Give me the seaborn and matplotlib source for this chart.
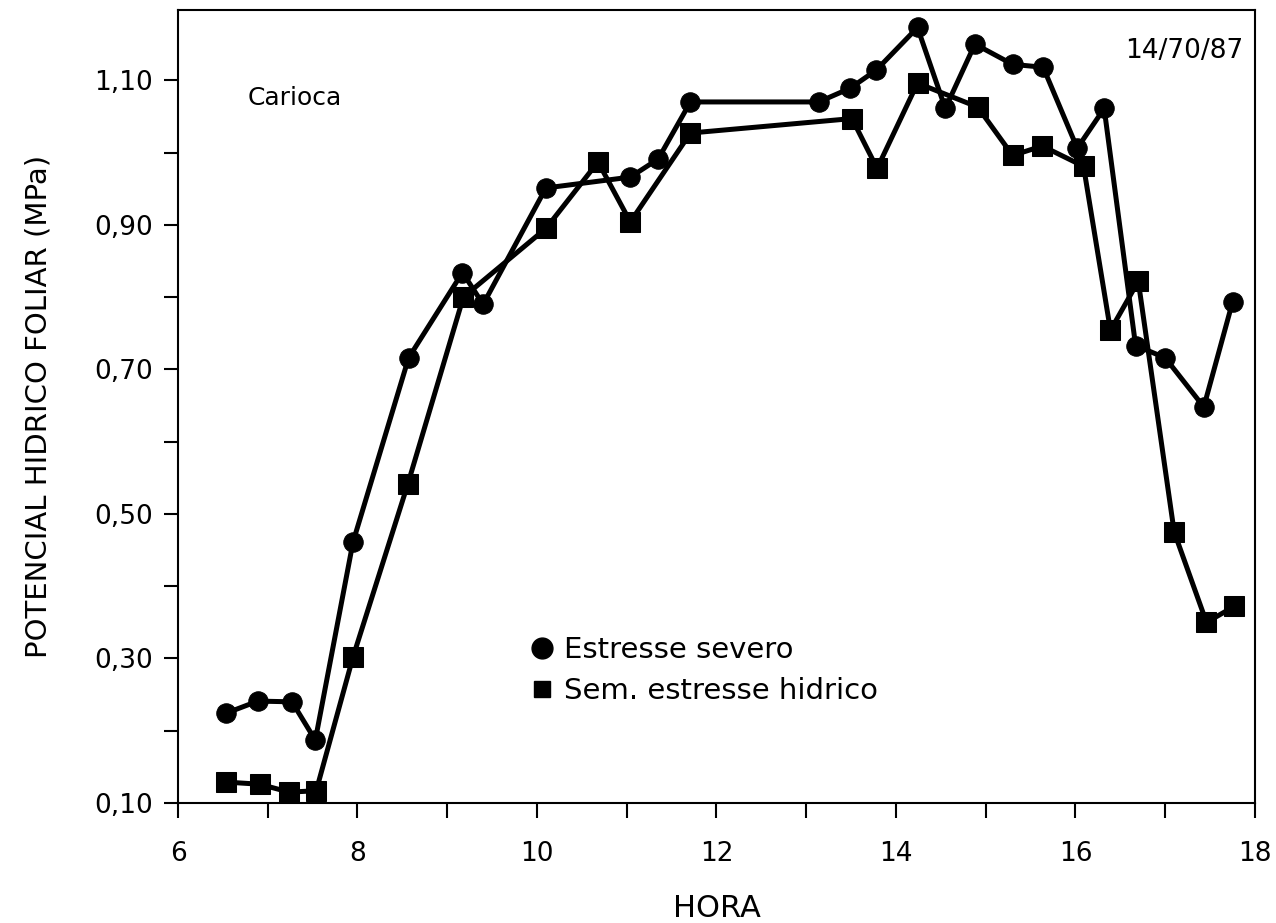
import matplotlib
matplotlib.use("Agg")
import matplotlib.pyplot as plt
import seaborn as sns
import pandas as pd
from matplotlib.ticker import MultipleLocator, FixedLocator, FuncFormatter
from matplotlib.lines import Line2D

# ---- data ----
hora_severo = [6.53, 6.89, 7.27, 7.53, 7.95, 8.57, 9.17, 9.40, 10.10, 11.04, 11.35, 11.71,
               13.14, 13.49, 13.78, 14.24, 14.55, 14.88, 15.30, 15.64, 16.02, 16.32,
               16.67, 17.00, 17.43, 17.75]
pot_severo = [0.224, 0.241, 0.240, 0.187, 0.461, 0.716, 0.834, 0.790, 0.951, 0.966, 0.991, 1.070,
              1.070, 1.089, 1.114, 1.173, 1.061, 1.150, 1.122, 1.118, 1.006, 1.061,
              0.733, 0.716, 0.648, 0.793]

hora_sem = [6.53, 6.91, 7.24, 7.54, 7.95, 8.56, 9.18, 10.10, 10.68, 11.04, 11.71,
            13.51, 13.79, 14.24, 14.91, 15.30, 15.63, 16.09, 16.39, 16.70, 17.10, 17.46, 17.77]
pot_sem = [0.129, 0.126, 0.115, 0.117, 0.302, 0.541, 0.800, 0.895, 0.987, 0.904, 1.027,
           1.047, 0.978, 1.096, 1.063, 0.996, 1.009, 0.981, 0.754, 0.822, 0.475, 0.350, 0.372]

serie_labels = ["Estresse severo", "Sem. estresse hidrico"]
x_ticks = [6, 8, 10, 12, 14, 16, 18]
y_ticks = [0.10, 0.30, 0.50, 0.70, 0.90, 1.10]

df_sev = pd.DataFrame({"hora": hora_severo, "pot": pot_severo})
df_sem = pd.DataFrame({"hora": hora_sem, "pot": pot_sem})

sns.set_style("ticks")
plt.rcParams['font.family'] = ['DejaVu Sans']
for k in ["text.color", "axes.labelcolor", "xtick.color", "ytick.color", "axes.edgecolor"]:
    plt.rcParams[k] = "black"

fig = plt.figure(figsize=(12.76, 9.23), dpi=100)
ax = fig.add_axes([0.1395, 0.130, 0.844, 0.859])

sns.lineplot(data=df_sev, x="hora", y="pot", ax=ax, color="black", linewidth=3.6,
             marker="o", markersize=14, markeredgecolor="black", sort=False,
             label=serie_labels[0], legend=False)
sns.lineplot(data=df_sem, x="hora", y="pot", ax=ax, color="black", linewidth=3.6,
             marker="s", markersize=14, markeredgecolor="black", sort=False,
             label=serie_labels[1], legend=False)

ax.set_xlim(6, 18)
ax.set_ylim(0.10, 1.197)
ax.xaxis.set_major_locator(FixedLocator(x_ticks))
ax.xaxis.set_minor_locator(MultipleLocator(1))
ax.yaxis.set_major_locator(FixedLocator(y_ticks))
ax.yaxis.set_minor_locator(MultipleLocator(0.1))
ax.yaxis.set_major_formatter(FuncFormatter(lambda v, p: f"{v:.2f}".replace(".", ",")))

ax.tick_params(axis="x", which="both", direction="out", length=11, width=1.5,
               labelsize=19, pad=16)
ax.tick_params(axis="y", which="both", direction="out", length=10, width=1.5,
               labelsize=19, pad=8)
for s in ax.spines.values():
    s.set_visible(True)
    s.set_linewidth(1.5)
    s.set_color("black")

ax.set_xlabel("HORA", fontsize=22, labelpad=20)
ax.set_ylabel("POTENCIAL HIDRICO FOLIAR (MPa)", fontsize=21, labelpad=30)

ax.text(6.78, 1.075, "Carioca", fontsize=18, ha="left", va="center")
ax.text(17.87, 1.14, "14/70/87", fontsize=19, ha="right", va="center")

h = [Line2D([], [], color="black", marker="o", linestyle="none", markersize=15),
     Line2D([], [], color="black", marker="s", linestyle="none", markersize=12)]
ax.legend(h, serie_labels, loc="lower left", bbox_to_anchor=(0.30, 0.09),
          frameon=False, fontsize=21, handletextpad=0.25, labelspacing=0.45,
          handlelength=1.0)

fig.savefig("out.png", dpi=100)
